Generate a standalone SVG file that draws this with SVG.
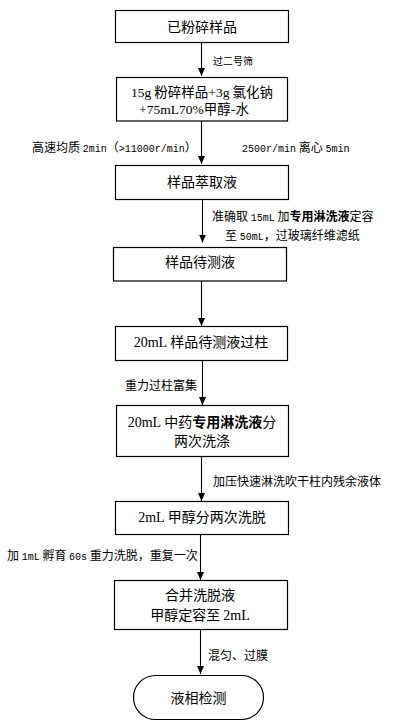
<svg xmlns="http://www.w3.org/2000/svg" width="401" height="724" viewBox="0 0 401 724">
<defs>
<marker id="ah" markerUnits="userSpaceOnUse" markerWidth="8" markerHeight="8" refX="8" refY="3.5" orient="auto">
<path d="M0,0 L8,3.5 L0,7 z" fill="#000"/>
</marker>
<style>
.box{fill:#fff;stroke:#000;stroke-width:1.2}
.bt{font-family:"Noto Sans CJK SC","Liberation Sans",sans-serif;font-size:14px;fill:#000;text-anchor:middle}
.b2{font-size:13.5px}
.lt{font-family:"Noto Sans CJK SC","Liberation Sans",sans-serif;font-size:12px;fill:#000}
.sm{font-size:10px}
.ser{font-family:"Liberation Serif",serif}
.mono{font-family:"Liberation Mono",monospace;font-size:10px}
.b{font-weight:bold}
.con line{stroke:#000;stroke-width:1.1;marker-end:url(#ah)}
</style>
</defs>
<rect width="401" height="724" fill="#fff"/>
<g id="connectors" class="con">
<line x1="201.5" y1="42.5" x2="201.5" y2="76"/>
<line x1="201.5" y1="121" x2="201.5" y2="164"/>
<line x1="202.5" y1="199.5" x2="202.5" y2="242.5"/>
<line x1="201.5" y1="281" x2="201.5" y2="326"/>
<line x1="202.5" y1="361" x2="202.5" y2="405"/>
<line x1="201.5" y1="457" x2="201.5" y2="501"/>
<line x1="200.5" y1="534.5" x2="200.5" y2="580"/>
<line x1="200.5" y1="629.5" x2="200.5" y2="674"/>
</g>
<g id="labels">
<text class="lt sm" x="213" y="64.5">过二号筛</text>
<text class="lt" x="32" y="151.5">高速均质 <tspan class="mono">2min</tspan>（<tspan class="mono">&gt;11000r/min</tspan>）</text>
<text class="lt" x="242" y="151.5"><tspan class="mono">2500r/min</tspan> 离心 <tspan class="mono">5min</tspan></text>
<text class="lt" x="212" y="221">准确取 <tspan class="mono">15mL</tspan> 加<tspan class="b">专用淋洗液</tspan>定容</text>
<text class="lt" x="225" y="239.5">至 <tspan class="mono">50mL</tspan>，过玻璃纤维滤纸</text>
<text class="lt" x="125" y="389.5">重力过柱富集</text>
<text class="lt" x="213" y="486">加压快速淋洗吹干柱内残余液体</text>
<text class="lt" x="7" y="559.5">加 <tspan class="mono">1mL</tspan> 孵育 <tspan class="mono">60s</tspan> 重力洗脱，重复一次</text>
<text class="lt" x="208" y="659.5">混匀、过膜</text>
</g>
<g id="n1">
<rect class="box" x="115.5" y="10.5" width="173" height="32"/>
<text class="bt" x="202" y="31.5">已粉碎样品</text>
</g>
<g id="n2">
<rect class="box" x="116.5" y="77.5" width="171" height="43.5"/>
<text class="bt b2" x="202" y="96.5"><tspan class="ser">15g</tspan> 粉碎样品<tspan class="ser">+3g</tspan> 氯化钠</text>
<text class="bt b2" x="194" y="114"><tspan class="ser">+75mL70%</tspan>甲醇-水</text>
</g>
<g id="n3">
<rect class="box" x="115.5" y="165.5" width="173" height="34"/>
<text class="bt" x="202" y="187">样品萃取液</text>
</g>
<g id="n4">
<rect class="box" x="113.5" y="247.5" width="173" height="33.5"/>
<text class="bt" x="200" y="267">样品待测液</text>
</g>
<g id="n5">
<rect class="box" x="115.5" y="326.5" width="172" height="34"/>
<text class="bt" x="201" y="347"><tspan class="ser">20mL</tspan> 样品待测液过柱</text>
</g>
<g id="n6">
<rect class="box" x="116.5" y="405.5" width="172" height="51"/>
<text class="bt" x="202" y="427"><tspan class="ser">20mL</tspan> 中药<tspan class="b">专用淋洗液</tspan>分</text>
<text class="bt" x="202" y="445.5">两次洗涤</text>
</g>
<g id="n7">
<rect class="box" x="115.5" y="501.5" width="173" height="33"/>
<text class="bt" x="202" y="521.5"><tspan class="ser">2mL</tspan> 甲醇分两次洗脱</text>
</g>
<g id="n8">
<rect class="box" x="114.5" y="580.5" width="173" height="49"/>
<text class="bt" x="200" y="600">合并洗脱液</text>
<text class="bt" x="200" y="620">甲醇定容至 <tspan class="ser">2mL</tspan></text>
</g>
<g id="n9">
<rect class="box" x="133.5" y="675.5" width="130" height="44" rx="22" ry="22"/>
<text class="bt" x="198.5" y="702.5">液相检测</text>
</g>
</svg>
